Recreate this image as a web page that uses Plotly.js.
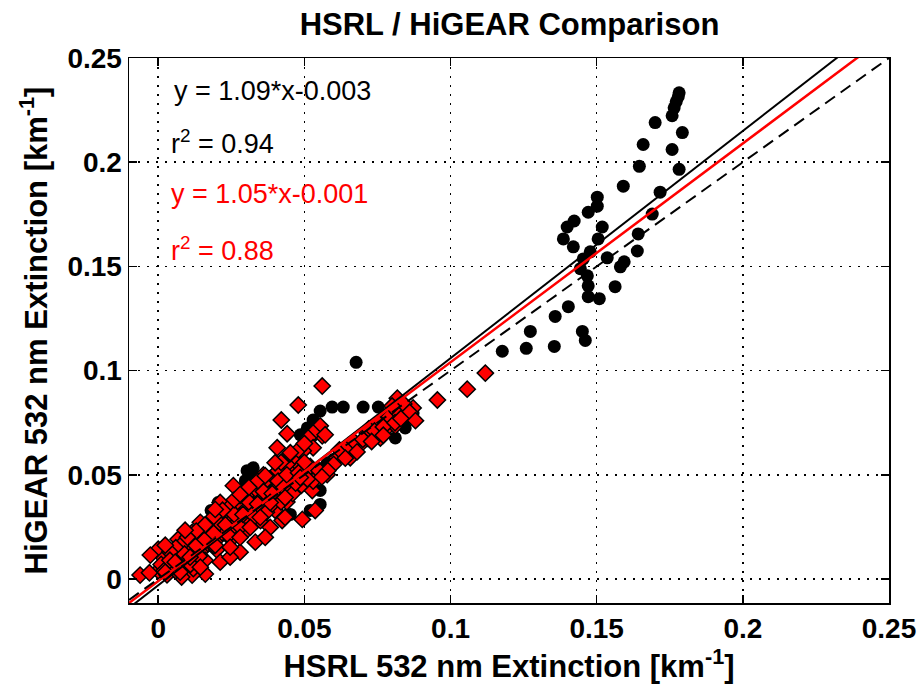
<!DOCTYPE html>
<html>
<head>
<meta charset="utf-8">
<script src="https://cdn.plot.ly/plotly-3.0.1.min.js"></script>
<style>html,body{margin:0;padding:0;background:#fff;}#chart{width:918px;height:688px;}</style>
</head>
<body>
<div id="chart"></div>
<script>
// HSRL vs HiGEAR extinction, all points (black circles)
const hsrlBlack = [
  0.1782,0.1779,0.1772,0.1765,0.1758,0.1700,0.1793,0.1659,0.1758,0.1646,0.1782,0.1591,0.1717,0.1502,0.1502,0.1471,
  0.1690,0.1423,0.1399,0.1519,0.1386,0.1505,0.1642,0.1420,0.1478,0.1639,0.1454,0.1536,0.1444,0.1581,0.1594,0.1468,
  0.1471,0.1563,0.1471,0.1509,0.1403,0.1358,0.1273,0.1451,0.1461,0.1259,0.1355,0.1177,
  0.0677,0.0595,0.0633,0.0701,0.0753,0.0554,0.0530,0.0510,0.0486,0.0828,0.0794,0.0760,0.0732,0.0715,0.0684,0.0657,
  0.0623,0.0599,0.0578,0.0462,0.0510,0.0554,0.0554,0.0520,0.0441,0.0452,0.0325,0.0304,0.0339,0.0315,0.0298,0.0205,
  0.0181,0.0222,0.0212,0.0872,0.0845,0.0811,
  0.0050,0.0100,0.0150,0.0200,0.0250,0.0300,0.0350,0.0400,0.0450,0.0080,0.0180,0.0280,0.0380
];
const higearBlack = [
  0.2333,0.2314,0.2290,0.2261,0.2223,0.2190,0.2142,0.2085,0.2061,0.1980,0.1966,0.1885,0.1856,0.1832,0.1789,0.1760,
  0.1751,0.1718,0.1689,0.1689,0.1632,0.1632,0.1656,0.1594,0.1570,0.1574,0.1536,0.1541,0.1489,0.1498,0.1522,0.1455,
  0.1407,0.1403,0.1355,0.1345,0.1307,0.1260,0.1188,0.1188,0.1145,0.1107,0.1116,0.1093,
  0.1040,0.0825,0.0825,0.0825,0.0825,0.0806,0.0763,0.0725,0.0692,0.0787,0.0740,0.0716,0.0692,0.0663,0.0639,0.0596,
  0.0615,0.0573,0.0558,0.0439,0.0472,0.0425,0.0358,0.0329,0.0377,0.0310,0.0534,0.0520,0.0472,0.0510,0.0472,0.0367,
  0.0329,0.0344,0.0358,0.0797,0.0725,0.0677,
  0.0080,0.0120,0.0170,0.0220,0.0270,0.0320,0.0370,0.0420,0.0470,0.0060,0.0160,0.0260,0.0360
];
// Subset (red diamonds)
const hsrlRed = [
  0.0561,0.0479,0.0421,0.0441,0.0407,0.0493,0.0520,0.0561,0.0257,0.0212,0.0144,0.0116,0.0068,0.0000,-0.0027,0.0044,
  -0.0062,0.0161,0.0116,0.0171,0.1119,0.1057,0.0955,
  0.0818,0.0872,0.0835,0.0855,0.0794,0.0753,0.0783,0.0811,0.0760,0.0715,0.0691,0.0657,0.0612,0.0578,0.0537,0.0493,
  0.0424,0.0527,0.0554,0.0530,0.0571,0.0513,0.0530,0.0496,
  0.000,0.003,0.005,0.002,0.008,0.007,0.010,0.010,0.012,0.013,0.015,0.015,0.017,0.018,0.020,0.020,0.022,0.023,0.025,
  0.025,0.027,0.028,0.030,0.030,0.032,0.033,0.035,0.035,0.037,0.038,0.040,0.040,0.042,0.043,0.045,0.045,0.047,0.048,
  0.046,0.044,0.041,0.038,0.036,0.033,0.030,0.027,0.024,0.021,0.018,0.015,0.012,0.009,0.006,0.004,0.001,-0.003,
  0.020,0.025,0.030,0.035,0.040,0.044,0.012,0.016,0.008,0.050,0.052,0.049,0.053,0.055,
  0.002,0.006,0.004,0.009,0.011,0.014,0.013,0.016,0.019,0.019,0.021,0.024,0.023,0.026,0.028,0.029,0.031,0.033,
  0.034,0.036,0.037,0.039,0.039,0.041,0.042,0.043,0.044,0.046,0.047,0.048,0.050,0.051,0.036,0.034,0.031,0.028,
  0.026,0.022,0.019,0.016,0.013,0.010,0.042,0.045,0.048,0.050,
  0.062,0.065,0.067,0.070,0.072,0.074,0.077,0.079,0.082,0.084,0.086,0.088,0.081,0.077,0.073,0.068,0.064,0.060,
  0.058,0.056,0.080,0.083,
  0.0144,0.0212,0.0280,0.0332,0.0383,0.0434,0.0366,0.0246,0.0075,
  0.0024,0.0092,0.0195,0.0280,0.0366,0.0400,0.0452,
  0.0280,0.0315,0.0383,0.0246,0.0434,0.0349,0.0195,0.0486,0.0109,0.0058,0.0024
];
const higearRed = [
  0.0926,0.0835,0.0763,0.0697,0.0630,0.0630,0.0677,0.0687,0.0448,0.0367,0.0272,0.0224,0.0191,0.0143,0.0115,0.0119,
  0.0019,0.0024,0.0019,0.0258,0.0988,0.0911,0.0859,
  0.0868,0.0821,0.0830,0.0787,0.0773,0.0749,0.0725,0.0735,0.0677,0.0701,0.0644,0.0582,0.0582,0.0501,0.0329,0.0286,
  0.0281,0.0425,0.0735,0.0701,0.0692,0.0677,0.0630,0.0615,
  0.004,0.002,0.008,0.010,0.006,0.012,0.009,0.015,0.012,0.018,0.014,0.020,0.017,0.023,0.019,0.025,0.022,0.028,0.024,
  0.030,0.027,0.033,0.029,0.035,0.032,0.038,0.034,0.040,0.037,0.043,0.039,0.046,0.042,0.049,0.045,0.052,0.048,0.055,
  0.058,0.055,0.052,0.048,0.046,0.043,0.040,0.037,0.034,0.030,0.027,0.024,0.021,0.018,0.015,0.013,0.007,0.003,
  0.014,0.019,0.023,0.028,0.033,0.037,0.005,0.009,0.001,0.050,0.054,0.045,0.047,0.052,
  0.004,0.004,0.009,0.012,0.007,0.011,0.016,0.019,0.016,0.022,0.027,0.021,0.026,0.031,0.025,0.031,0.037,0.030,
  0.036,0.042,0.032,0.036,0.041,0.047,0.037,0.044,0.050,0.041,0.046,0.051,0.056,0.048,0.050,0.047,0.044,0.040,
  0.038,0.033,0.030,0.026,0.023,0.020,0.056,0.060,0.062,0.065,
  0.062,0.064,0.066,0.067,0.072,0.071,0.073,0.078,0.080,0.084,0.080,0.076,0.075,0.069,0.066,0.061,0.058,0.055,
  0.052,0.049,0.083,0.077,
  0.0057,0.0081,0.0129,0.0177,0.0248,0.0296,0.0200,0.0105,0.0033,
  0.0162,0.0234,0.0334,0.0406,0.0496,0.0558,0.0606,
  0.0200,0.0248,0.0367,0.0153,0.0391,0.0296,0.0162,0.0487,0.0105,0.0081,0.0033
];
// Fit lines
const fitSlopes = [1.09, 1.05];
const fitIntercepts = [-0.003, -0.001];
const fitLabels = ['y = 1.09*x-0.003', 'y = 1.05*x-0.001'];
const r2Labels = ['r<sup>2</sup> = 0.94', 'r<sup>2</sup> = 0.88'];
const lineX = [-0.01, 0.25];
const xTicks = [0, 0.05, 0.1, 0.15, 0.2, 0.25];
const yTicks = [0, 0.05, 0.1, 0.15, 0.2, 0.25];
const xTickText = ['0', '0.05', '0.1', '0.15', '0.2', '0.25'];
const yTickText = ['0', '0.05', '0.1', '0.15', '0.2', '0.25'];

const traces = [
  {x: hsrlBlack, y: higearBlack, mode: 'markers', type: 'scatter',
   marker: {symbol: 'circle', size: 13, color: 'black', line: {width: 0}}},
  {x: hsrlRed, y: higearRed, mode: 'markers', type: 'scatter',
   marker: {symbol: 'diamond', size: 12.5, color: '#ff0000', line: {width: 1.5, color: 'black'}}},
  {x: lineX, y: lineX.map(v => fitSlopes[0] * v + fitIntercepts[0]), mode: 'lines', type: 'scatter',
   line: {color: 'black', width: 2}},
  {x: lineX, y: lineX.map(v => fitSlopes[1] * v + fitIntercepts[1]), mode: 'lines', type: 'scatter',
   line: {color: '#ff0000', width: 2.5}},
  {x: lineX, y: lineX, mode: 'lines', type: 'scatter',
   line: {color: 'black', width: 2, dash: '12px,7px'}}
];

const tickFont = {family: 'Liberation Sans, Arial, sans-serif', size: 28, color: 'black', weight: 'bold'};
const annFont = {family: 'Liberation Sans, Arial, sans-serif', size: 27, color: 'black'};
const annRed = Object.assign({}, annFont, {color: '#ff0000'});

const layout = {
  width: 918, height: 688,
  paper_bgcolor: 'white', plot_bgcolor: 'white',
  showlegend: false,
  margin: {l: 129, r: 29, t: 58, b: 85},
  title: {text: '<b>HSRL / HiGEAR Comparison</b>', x: 0.555, xanchor: 'center', y: 0.965, yanchor: 'middle', yref: 'container',
          font: {family: 'Liberation Sans, Arial, sans-serif', size: 31, color: 'black'}},
  xaxis: {range: [-0.01, 0.25], tickvals: xTicks, ticktext: xTickText, tickfont: tickFont,
          showgrid: true, gridcolor: 'black', griddash: '2px,7px', gridwidth: 1.5, zeroline: false,
          showline: true, linecolor: 'black', linewidth: 1.5, mirror: 'ticks',
          ticks: 'inside', ticklen: 8, tickwidth: 1.5, tickcolor: 'black',
          title: {text: '<b>HSRL 532 nm Extinction [km<sup>-1</sup>]</b>', standoff: 12,
                  font: {family: 'Liberation Sans, Arial, sans-serif', size: 31, color: 'black'}}},
  yaxis: {range: [-0.0115, 0.25], tickvals: yTicks, ticktext: yTickText, tickfont: tickFont,
          showgrid: true, gridcolor: 'black', griddash: '2px,7px', gridwidth: 1.5, zeroline: false,
          showline: true, linecolor: 'black', linewidth: 1.5, mirror: 'ticks',
          ticks: 'inside', ticklen: 8, tickwidth: 1.5, tickcolor: 'black',
          title: {text: '<b>HiGEAR 532 nm Extinction [km<sup>-1</sup>]</b>', standoff: 10,
                  font: {family: 'Liberation Sans, Arial, sans-serif', size: 31, color: 'black'}}},
  annotations: [
    {text: fitLabels[0], xref: 'paper', yref: 'paper', x: 0.057, y: 0.94, xanchor: 'left', yanchor: 'middle', showarrow: false, font: annFont},
    {text: r2Labels[0], xref: 'paper', yref: 'paper', x: 0.052, y: 0.845, xanchor: 'left', yanchor: 'middle', showarrow: false, font: annFont},
    {text: fitLabels[1], xref: 'paper', yref: 'paper', x: 0.052, y: 0.75, xanchor: 'left', yanchor: 'middle', showarrow: false, font: annRed},
    {text: r2Labels[1], xref: 'paper', yref: 'paper', x: 0.052, y: 0.65, xanchor: 'left', yanchor: 'middle', showarrow: false, font: annRed}
  ]
};

Plotly.newPlot('chart', traces, layout, {staticPlot: true, displayModeBar: false});
</script>
</body>
</html>
